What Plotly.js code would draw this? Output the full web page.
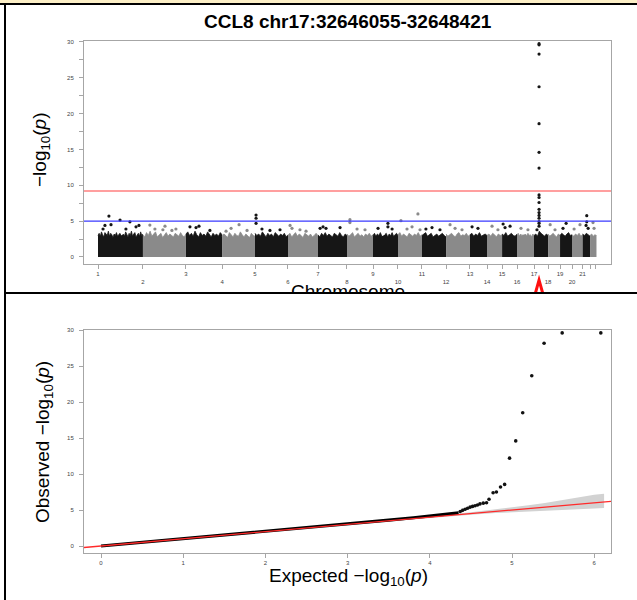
<!DOCTYPE html>
<html><head><meta charset="utf-8">
<script src="https://cdn.plot.ly/plotly-3.0.1.min.js"></script>
<style>
html,body{margin:0;padding:0;background:#fff;width:637px;height:600px;overflow:hidden;position:relative}
.abs{position:absolute}
</style></head><body>
<div id="manhattan" class="abs" style="left:0;top:5px;width:637px;height:287px"></div>
<div id="qq" class="abs" style="left:0;top:294px;width:637px;height:306px"></div>
<div class="abs" style="left:0;top:0;width:637px;height:3px;background:#fcefc6"></div>
<div class="abs" style="left:0;top:3px;width:637px;height:2px;background:#000"></div>
<div class="abs" style="left:4px;top:3px;width:2px;height:597px;background:#000"></div>
<div class="abs" style="left:4px;top:292px;width:633px;height:2px;background:#000"></div>
<script>
// ---------------- DATA ----------------
const plotTitle = 'CCL8 chr17:32646055-32648421';
const chromosomes = [1,2,3,4,5,6,7,8,9,10,11,12,13,14,15,16,17,18,19,20,21,22];
const chromStartMb = [0,259,507,715,905,1095,1268,1435,1585,1729,1867,2006,2144,2242,2329,2415,2513,2594,2663,2732,2793,2836];
const genomeEndMb = 2873;
const chromLabels = ['1','2','3','4','5','6','7','8','9','10','11','12','13','14','15','16','17','18','19','20','21',''];

// upper edge of the dense cloud of SNPs per chromosome (-log10 p), null = centromere gap
const bodyTop = [
 [3.0,3.3,2.9,3.5,3.1,2.8,3.4,3.2,3.0,3.6,2.9,3.3,3.1,2.7,3.2,3.0,3.4,2.9,3.1,3.3,3.0,null,3.2,2.9,3.5,3.1,2.8,3.3,3.0,3.6,2.9,3.2,3.4,2.8,3.1,3.3,2.9,3.5,3.0,3.2],
 [3.1,2.8,3.4,3.0,3.6,2.9,3.2,3.5,2.8,3.1,3.3,2.7,3.0,3.4,2.9,3.2,3.0,2.8,3.3,3.1,2.9,3.4,3.0,2.8,3.2],
 [3.2,3.5,3.0,3.3,2.9,3.6,3.1,2.8,3.4,3.0,3.2,2.9,3.5,3.1,2.8,3.3,3.0,3.2,2.9,3.4,3.1],
 [2.9,3.2,3.0,2.7,3.4,3.1,2.8,3.3,3.0,2.9,3.5,3.1,2.8,3.2,3.0,2.7,3.3,3.0,2.9],
 [3.3,3.0,3.2,2.9,3.5,3.1,2.8,3.3,3.0,3.2,2.8,3.4,3.1,2.9,3.2,3.0,3.3,2.8,3.1],
 [3.0,3.3,2.8,3.1,3.4,2.9,3.2,3.0,2.7,3.3,3.1,2.9,3.2,2.8,3.0,3.3,2.9],
 [3.1,2.8,3.3,3.0,3.4,2.9,3.2,3.0,2.8,3.3,3.1,2.9,3.4,3.0,2.8,3.2,3.0],
 [3.2,2.9,3.1,3.4,2.8,3.0,3.3,2.9,3.1,2.8,3.2,3.0,3.3,2.9,3.1],
 [3.0,3.3,2.9,3.2,3.0,3.4,2.9,null,3.1,3.3,2.8,3.2,3.0,3.4,2.9,3.1,3.3,3.0],
 [3.1,3.4,2.9,3.2,3.0,2.8,3.3,3.1,2.9,3.2,3.0,3.4,2.9,3.1],
 [3.0,3.2,3.4,2.9,3.1,3.3,2.8,3.0,3.2,2.9,3.1,3.3,3.0,2.8],
 [3.2,2.9,3.1,3.3,3.0,2.8,3.2,3.4,2.9,3.1,3.0,3.3,2.9,3.1],
 [3.1,3.3,2.9,3.2,3.0,3.4,2.9,3.1,3.2,3.0],
 [3.0,3.2,2.9,3.3,3.1,2.8,3.2,3.0,3.1],
 [3.2,3.0,3.4,2.9,3.1,3.3,3.0,2.9,3.2],
 [3.1,3.3,2.9,3.2,3.0,3.1,null,3.2,2.9,3.3,3.0,3.1,2.8,3.2,3.0],
 [3.0,3.2,2.9,3.6,3.3,3.1,2.9,3.2,3.0],
 [3.2,2.9,3.1,3.3,3.0,2.8,3.2,3.0],
 [3.0,3.3,3.1,2.9,3.2,3.4,3.0,3.1],
 [3.1,2.9,3.2,3.0,3.3,2.9,3.1],
 [3.2,3.0,3.3,3.1,2.9],
 [3.0,3.2,2.9,3.1,3.0]
];

// individual SNPs standing out of the cloud: chromosome, position within chromosome (Mb), -log10 p
const hitChr = [1,1,1,1,1,1,1,1,1, 2,2,2,2,2,2, 3,3,3,3, 4,4,4,4, 5,5,5,5,5,5, 6,6,6,6, 7,7,7,7, 8,8,8,8, 9,9,9,9, 10,10,10,10,10, 11,11,11, 12,12,12, 13,13, 14,14, 15,15,15, 16,16,
 17,17,17,17,17,17,17,17,17,17,17,17,17,17,17,17,17,17, 18,18, 19,19, 20,20, 21,21,21,21, 22,22];
const hitPosMb = [29,40,63,75,127,161,184,219,236, 40,69,115,127,167,190, 23,58,75,138, 23,52,98,144, 6,6,6,40,86,144, 12,23,69,104, 12,29,46,127, 17,17,58,104, 29,86,86,110, 17,52,81,115,127, 23,58,104, 23,52,92, 12,46, 29,63, 6,17,46, 23,63,
 29,29,29,29,29,29,29,29,29,29,29,29,29,29,29,29,29,17, 12,40, 35,17, 12,46, 24,24,20,32, 17,23];
const hitVal = [3.9,4.4,5.7,4.5,5.15,3.9,4.9,4.2,4.4, 4.45,3.9,3.8,4.3,3.7,3.9, 4.2,4.1,4.3,3.7, 3.6,4.0,4.5,3.7, 5.85,5.4,4.7,3.9,3.7,3.8, 4.4,4.0,3.8,3.6, 4.0,4.2,4.0,4.1, 5.2,4.8,3.9,3.8, 4.0,4.7,4.2,3.9, 5.07,3.9,4.2,6.0,3.8, 3.9,4.1,3.8, 4.5,4.0,3.8, 4.2,4.0, 4.3,3.8, 4.6,4.1,4.3, 4.0,3.8,
 29.75,29.6,28.3,23.75,18.6,14.6,12.4,8.65,8.3,7.6,6.65,6.2,5.8,5.4,4.95,4.7,4.3,3.8, 4.5,3.8, 4.7,4.0, 3.9,4.5, 5.76,4.9,4.4,4.0, 4.8,4.0];

const suggestiveLine = 5;
const genomeWideLine = 9.2;

// QQ plot
const qqBodyExpected = [0,0.5,1,1.5,2,2.5,3,3.5,3.8,4.0,4.2,4.35];
const qqBodyObserved = [0,0.5,1.01,1.52,2.03,2.55,3.07,3.6,3.93,4.15,4.38,4.6];
const qqTopExpected = [6.08,5.61,5.39,5.24,5.13,5.045,4.97,4.91,4.86,4.81,4.77,4.72,4.69,4.65,4.61,4.58,4.55,4.52,4.49,4.46,4.43,4.40,4.37];
const qqTopObserved = [29.6,29.6,28.15,23.65,18.5,14.6,12.2,8.56,8.2,7.5,7.4,6.5,6.0,5.95,5.85,5.7,5.6,5.5,5.4,5.25,5.1,4.95,4.8];
const bandExpected = [0,1,2,3,3.5,4,4.5,4.8,5.0,5.2,5.4,5.6,5.8,6.0,6.12];
const bandUpper = [0.02,1.02,2.03,3.05,3.58,4.12,4.7,5.08,5.35,5.65,5.98,6.38,6.78,7.12,7.25];
const bandLower = [0,0.98,1.97,2.95,3.43,3.9,4.34,4.57,4.7,4.82,4.92,5.02,5.12,5.22,5.28];

// ---------------- STYLE ----------------
const FONT = 'Liberation Sans, Arial, Helvetica, sans-serif';
const colBlack = '#161616', colGray = '#8a8a8a';
const axisCol = '#a6a6a6';
const W = 637;

// ---------------- MANHATTAN ----------------
const mTraces = [];
chromosomes.forEach((c, i) => {
  const start = chromStartMb[i];
  const end = i < chromosomes.length - 1 ? chromStartMb[i + 1] : genomeEndMb;
  const vals = bodyTop[i];
  const n = vals.length;
  const xs = vals.map((v, j) => start + (end - start) * j / (n - 1));
  const col = (c % 2 === 1) ? colBlack : colGray;
  mTraces.push({type:'scatter', mode:'lines', x:xs, y:vals, fill:'tozeroy', fillcolor:col,
    line:{color:col, width:0.8}, connectgaps:false, hoverinfo:'skip'});
});
mTraces.push({type:'scatter', mode:'markers',
  x: hitChr.map((c, k) => chromStartMb[c - 1] + hitPosMb[k]),
  y: hitVal,
  marker:{size:3.2, color: hitChr.map(c => c % 2 === 1 ? colBlack : colGray), line:{width:0}},
  hoverinfo:'skip', cliponaxis:false});

const mH = 287;
const pyM = p => 1 - (p - 5) / mH;   // page pixel -> paper (top div)
const peakX = chromStartMb[16] + 29;

const mLayout = {
  width: W, height: mH, margin:{l:0, r:0, t:0, b:0},
  paper_bgcolor:'rgba(0,0,0,0)', plot_bgcolor:'#fff', showlegend:false,
  font:{family:FONT, color:'#000'},
  xaxis:{domain:[84/W, 611/W], range:[-80.7, 2956.7], tickmode:'array',
    tickvals: chromStartMb.concat([genomeEndMb - 8]),
    ticktext: chromLabels.map((t, i) => (i % 2 === 1 && t) ? '<br>' + t : t).concat(['']),
    ticks:'outside', ticklen:4, tickwidth:1, tickcolor:axisCol, showline:true, linecolor:axisCol,
    linewidth:1, mirror:true, showgrid:false, zeroline:false, tickangle:0,
    tickfont:{size:6, color:'#444', family:FONT}},
  yaxis:{domain:[pyM(263.5), pyM(41)], range:[-0.91, 30.13], tickmode:'array',
    tickvals:[0,5,10,15,20,25,30], ticks:'outside', ticklen:4, tickwidth:1, tickcolor:axisCol,
    minor:{tickvals:[2.5,7.5,12.5,17.5,22.5,27.5], ticks:'outside', ticklen:4, tickcolor:axisCol, tickwidth:1, showgrid:false},
    showline:true, linecolor:axisCol, linewidth:1, mirror:true, showgrid:false, zeroline:false,
    ticklabelstandoff:4, tickfont:{size:6, color:'#444', family:FONT}},
  shapes:[
    {type:'line', xref:'x domain', x0:0, x1:1, yref:'y', y0:genomeWideLine, y1:genomeWideLine, line:{color:'#ff4040', width:1.1}},
    {type:'line', xref:'x domain', x0:0, x1:1, yref:'y', y0:suggestiveLine, y1:suggestiveLine, line:{color:'#3a3aff', width:1.1}},
    {type:'path', xref:'x', xsizemode:'pixel', xanchor:peakX, yref:'paper', ysizemode:'pixel', yanchor:pyM(280),
     path:'M -5,-18 L 0,0 L 5,-18', line:{color:'#ff1010', width:3}}
  ],
  annotations:[
    {text:'<b>' + plotTitle + '</b>', xref:'paper', yref:'paper', x:347.5/W, y:pyM(22), xanchor:'center', yanchor:'middle',
     showarrow:false, font:{size:19, color:'#000', family:FONT}},
    {text:'Chromosome', xref:'paper', yref:'paper', x:347.5/W, y:pyM(279), xanchor:'center', yanchor:'top',
     showarrow:false, font:{size:19, color:'#000', family:FONT}},
    {text:'\u2212log<sub>10</sub>(<i>p</i>)', xref:'paper', yref:'paper', x:41/W, y:pyM(150), xanchor:'center', yanchor:'middle',
     textangle:-90, showarrow:false, font:{size:19, color:'#000', family:FONT}}
  ]
};
Plotly.newPlot('manhattan', mTraces, mLayout, {staticPlot:true, displayModeBar:false});

// ---------------- QQ ----------------
const qH = 306;
const pyQ = p => 1 - (p - 294) / qH;
const qxRange = [-0.207, 6.204];
const qTraces = [
  {type:'scatter', mode:'lines', x: bandExpected.concat(bandExpected.slice().reverse()),
   y: bandUpper.concat(bandLower.slice().reverse()), fill:'toself', fillcolor:'#d2d2d2', line:{width:0}, hoverinfo:'skip'},
  {type:'scatter', mode:'lines', x: qqBodyExpected, y: qqBodyObserved, line:{color:'#000', width:3.2}, hoverinfo:'skip'},
  {type:'scatter', mode:'markers', x: qqTopExpected, y: qqTopObserved, marker:{size:3.6, color:'#111', line:{width:0}}, hoverinfo:'skip', cliponaxis:false},
  {type:'scatter', mode:'lines', x: qxRange, y: qxRange, line:{color:'#ff2a2a', width:1.3}, hoverinfo:'skip'}
];
const qLayout = {
  width: W, height: qH, margin:{l:0, r:0, t:0, b:0},
  paper_bgcolor:'rgba(0,0,0,0)', plot_bgcolor:'#fff', showlegend:false,
  font:{family:FONT, color:'#000'},
  xaxis:{domain:[84/W, 611/W], range:qxRange, tickmode:'array', tickvals:[0,1,2,3,4,5,6],
    ticks:'outside', ticklen:4, tickwidth:1, tickcolor:axisCol, showline:true, linecolor:axisCol, linewidth:1,
    mirror:true, showgrid:false, zeroline:false, tickfont:{size:6, color:'#444', family:FONT}},
  yaxis:{domain:[pyQ(553), pyQ(330)], range:[-0.97, 30.0], tickmode:'array', tickvals:[0,5,10,15,20,25,30],
    ticks:'outside', ticklen:4, tickwidth:1, tickcolor:axisCol, showline:true, linecolor:axisCol, linewidth:1,
    mirror:true, showgrid:false, zeroline:false, ticklabelstandoff:4, tickfont:{size:6, color:'#444', family:FONT}},
  annotations:[
    {text:'Expected \u2212log<sub>10</sub>(<i>p</i>)', xref:'paper', yref:'paper', x:348/W, y:pyQ(577), xanchor:'center', yanchor:'middle',
     showarrow:false, font:{size:19, color:'#000', family:FONT}},
    {text:'Observed \u2212log<sub>10</sub>(<i>p</i>)', xref:'paper', yref:'paper', x:44/W, y:pyQ(442), xanchor:'center', yanchor:'middle',
     textangle:-90, showarrow:false, font:{size:19, color:'#000', family:FONT}}
  ]
};
Plotly.newPlot('qq', qTraces, qLayout, {staticPlot:true, displayModeBar:false});
</script>
</body></html>
